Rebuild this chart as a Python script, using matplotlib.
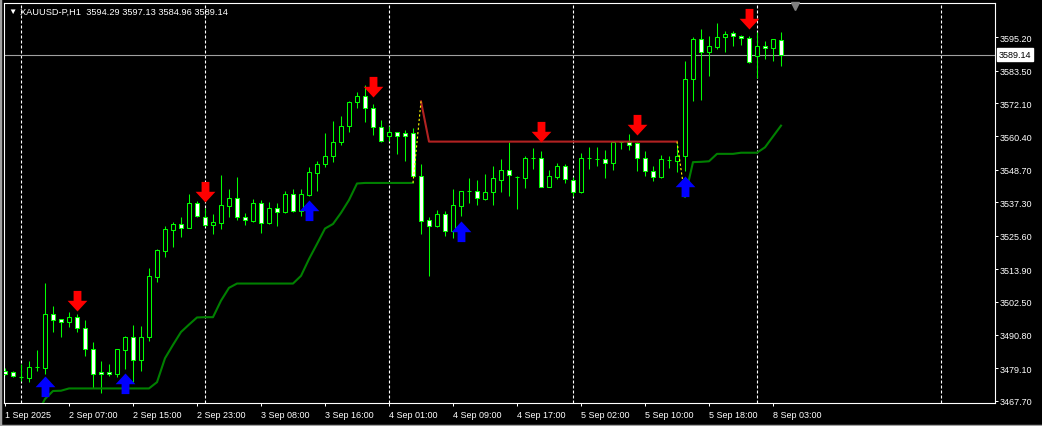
import numpy as np
import matplotlib
matplotlib.use("Agg")
import matplotlib.pyplot as plt
from matplotlib.patches import Rectangle
from matplotlib.path import Path

plt.rcParams['font.family'] = ['Liberation Sans', 'DejaVu Sans']

# XAUUSD-P H1 bars, 1 Sep 22:00 .. 8 Sep 06:00
opens = [3478.23, 3477.88, 3476.00, 3475.56, 3479.42, 3479.18, 3498.12, 3496.26, 3495.21, 3496.96,
         3493.11, 3485.84, 3477.67, 3477.67, 3477.07, 3485.60, 3489.95, 3482.09, 3489.95, 3511.21,
         3520.33, 3527.70, 3529.59, 3528.40, 3537.07, 3532.05, 3529.45, 3530.05, 3536.12, 3538.82,
         3532.15, 3530.86, 3536.96, 3529.94, 3535.21, 3533.80, 3540.22, 3534.37, 3539.98, 3547.70,
         3550.64, 3553.66, 3558.36, 3563.98, 3572.40, 3574.50, 3570.29, 3563.63, 3560.47, 3561.87,
         3561.63, 3561.63, 3546.43, 3531.00, 3529.10, 3533.10, 3527.35, 3536.12, 3541.17, 3541.17,
         3538.47, 3541.03, 3545.14, 3548.64, 3546.29, 3545.84, 3552.85, 3552.85, 3542.79, 3546.29,
         3549.94, 3545.14, 3540.82, 3552.75, 3552.50, 3552.40, 3551.00, 3558.36, 3558.36, 3558.01,
         3552.75, 3548.19, 3546.08, 3552.26, 3551.91, 3553.45, 3580.57, 3594.61, 3590.15, 3591.90,
         3595.20, 3596.61, 3595.55, 3594.85, 3588.54, 3592.04, 3591.34, 3594.29]
highs = [3479.07, 3478.12, 3480.58, 3481.53, 3485.49, 3509.00, 3501.03, 3496.37, 3498.72, 3498.12,
         3496.02, 3488.19, 3481.63, 3480.58, 3486.00, 3490.51, 3494.26, 3494.02, 3514.26, 3520.93,
         3528.89, 3530.30, 3532.05, 3540.22, 3537.87, 3535.21, 3533.21, 3546.89, 3541.98, 3546.29,
         3533.56, 3538.47, 3538.12, 3537.31, 3537.07, 3541.28, 3541.98, 3541.98, 3549.59, 3551.91,
         3561.63, 3565.94, 3567.70, 3572.75, 3575.91, 3578.47, 3571.80, 3566.19, 3563.98, 3562.08,
         3562.78, 3563.28, 3550.75, 3532.05, 3534.61, 3534.26, 3541.98, 3541.40, 3545.73, 3545.14,
         3547.24, 3549.94, 3552.50, 3558.57, 3546.50, 3553.66, 3556.36, 3555.42, 3548.64, 3551.00,
         3550.75, 3546.29, 3554.61, 3556.82, 3556.82, 3555.66, 3558.50, 3558.45, 3561.28, 3558.36,
         3555.42, 3549.94, 3553.91, 3553.66, 3557.77, 3586.99, 3595.41, 3598.11, 3595.76, 3600.22,
         3597.52, 3597.52, 3596.01, 3595.55, 3596.96, 3594.01, 3594.61, 3597.13]
lows = [3476.72, 3476.13, 3474.72, 3474.16, 3478.23, 3477.07, 3491.70, 3490.16, 3493.46, 3491.91,
        3483.28, 3472.16, 3470.41, 3476.26, 3476.02, 3478.83, 3474.16, 3478.23, 3488.76, 3509.46,
        3518.23, 3521.74, 3525.24, 3528.20, 3532.05, 3529.10, 3526.19, 3527.94, 3532.05, 3531.21,
        3529.45, 3530.51, 3526.54, 3529.70, 3529.10, 3533.56, 3534.01, 3532.40, 3539.63, 3541.38,
        3549.59, 3551.56, 3557.42, 3562.08, 3570.29, 3565.38, 3560.92, 3558.36, 3558.92, 3554.26,
        3551.91, 3546.08, 3526.19, 3511.35, 3528.54, 3525.38, 3524.68, 3532.40, 3536.96, 3536.36,
        3538.22, 3536.36, 3541.03, 3539.63, 3534.96, 3542.33, 3549.00, 3542.58, 3542.60, 3545.49,
        3544.08, 3539.63, 3540.47, 3549.00, 3550.15, 3545.84, 3548.64, 3556.01, 3555.66, 3548.40,
        3546.65, 3544.89, 3545.84, 3549.35, 3547.84, 3548.40, 3572.96, 3573.20, 3581.73, 3591.10,
        3590.15, 3592.26, 3592.61, 3586.08, 3580.82, 3587.59, 3586.99, 3584.96]
closes = [3477.07, 3476.48, 3475.91, 3479.42, 3479.50, 3498.12, 3496.12, 3495.21, 3496.96, 3493.11,
          3485.84, 3476.97, 3476.97, 3476.97, 3485.84, 3489.95, 3482.09, 3489.95, 3511.35, 3520.58,
          3527.94, 3529.59, 3528.40, 3537.07, 3532.61, 3529.45, 3530.51, 3536.36, 3538.82, 3532.05,
          3531.00, 3536.96, 3529.94, 3535.21, 3533.80, 3540.22, 3534.37, 3540.22, 3547.84, 3550.75,
          3553.66, 3558.36, 3563.98, 3572.40, 3574.50, 3570.29, 3563.63, 3558.92, 3561.87, 3560.47,
          3560.47, 3546.43, 3530.86, 3529.10, 3533.10, 3527.35, 3536.36, 3541.28, 3541.17, 3538.71,
          3540.82, 3545.73, 3548.64, 3546.99, 3546.29, 3552.85, 3552.85, 3542.79, 3546.43, 3549.94,
          3545.49, 3541.03, 3552.75, 3552.75, 3552.50, 3551.00, 3558.36, 3558.36, 3557.52, 3552.75,
          3548.19, 3546.08, 3552.50, 3552.26, 3553.45, 3580.57, 3594.61, 3590.15, 3592.04, 3595.20,
          3596.36, 3595.55, 3594.85, 3586.43, 3592.04, 3591.34, 3594.61, 3589.14]

# trailing stop indicator (value per bar) and its direction
trend_vals = ([np.nan] * 4 +
              [3463.0, 3468.3, 3471.1, 3471.2] + [3472.0] * 11 +
              [3474.2, 3482.6, 3487.3, 3491.8, 3494.4, 3496.9, 3497.0, 3497.0, 3502.8, 3507.3] +
              [3508.8] * 8 +
              [3511.5, 3517.4, 3522.7, 3528.1, 3529.7, 3533.6, 3538.1, 3543.9] + [3544.1] * 7 +
              [3572.7] + [3558.6] * 32 +
              [3539.2, 3551.4, 3551.5, 3551.7, 3554.3, 3554.3, 3554.3, 3554.7, 3554.7, 3554.7,
               3556.6, 3560.4, 3564.2])
trend_dir = [0] * 4 + [1] * 48 + [-1] * 33 + [1] * 13

# signal arrows (bar index, arrow tip price)
sell_bars = [9, 25, 46, 67, 79, 93]
sell_prices = [3499.28, 3537.31, 3574.15, 3558.36, 3561.03, 3598.11]
buy_bars = [5, 15, 38, 57, 85]
buy_prices = [3476.47, 3477.32, 3538.22, 3530.86, 3546.65]

price_ticks = [3595.20, 3583.50, 3572.10, 3560.40, 3548.70, 3537.30,
               3525.60, 3513.90, 3502.50, 3490.80, 3479.10, 3467.70]
tick_bars = [0, 8, 16, 24, 32, 40, 48, 56, 64, 72, 80, 88, 96]
time_labels = ['1 Sep 2025', '2 Sep 07:00', '2 Sep 15:00', '2 Sep 23:00', '3 Sep 08:00',
               '3 Sep 16:00', '4 Sep 01:00', '4 Sep 09:00', '4 Sep 17:00', '5 Sep 02:00',
               '5 Sep 10:00', '5 Sep 18:00', '8 Sep 03:00']
day_starts = [2, 25, 48, 71, 94, 117]

lime = '#00ff00'
W, H = 1042, 427
fig = plt.figure(figsize=(W / 100, H / 100), dpi=100, facecolor='black')
ax = fig.add_axes([4 / W, 23 / H, 991 / W, 400 / H])
ax.set_facecolor('black')

n = len(closes)
x = np.arange(n)
ax.set_xlim(-0.125, 123.75)
ax.set_ylim(3466.89, 3607.23)

for d in day_starts:
    ax.axvline(d, color='white', lw=0.8, ls=(0, (2.7, 1.8)), zorder=1)
ax.axhline(closes[-1], color='#a0a0a0', lw=0.8, zorder=1)

# candles
ax.vlines(x, lows, highs, color=lime, lw=0.75, zorder=3)
for i in range(n):
    o, c = opens[i], closes[i]
    face = 'white' if c < o else 'black'
    ax.add_patch(Rectangle((i - 0.25, min(o, c)), 0.5, abs(c - o),
                           fc=face, ec=lime, lw=0.75, zorder=4))

# indicator line
trend = np.array(trend_vals, dtype=float)
tdir = np.array(trend_dir)
up = np.where(tdir == 1, trend, np.nan)
dn = np.where(tdir == -1, trend, np.nan)
ax.plot(x, up, color='#008000', lw=1.5, zorder=5)
ax.plot(x, dn, color='#b22222', lw=1.5, zorder=5)
for i in range(1, n):
    if tdir[i - 1] != 0 and tdir[i] != tdir[i - 1]:
        ax.plot([i - 1, i], [trend[i - 1], trend[i]], color='#ffff00', lw=0.8,
                ls=(0, (2.0, 2.0)), zorder=5)

# arrows
down_verts = [(0, 0), (0.48, 0.52), (0.19, 0.52), (0.19, 1), (-0.19, 1),
              (-0.19, 0.52), (-0.48, 0.52), (0, 0)]
down_arrow = Path(down_verts)
up_arrow = Path([(vx, -vy) for vx, vy in down_verts])
ax.scatter(sell_bars, sell_prices, marker=down_arrow, s=880, c='#ff0000',
           linewidths=0, zorder=6)
ax.scatter(buy_bars, buy_prices, marker=up_arrow, s=880, c='#0000ff',
           linewidths=0, zorder=6)

# axes styling
ax.yaxis.tick_right()
ax.set_yticks(price_ticks)
ax.set_yticklabels([f'{p:.2f}' for p in price_ticks])
ax.set_xticks(tick_bars)
ax.set_xticklabels(time_labels, ha='left')
ax.tick_params(colors='white', labelsize=6.5, length=2.2, width=0.72, pad=1.5)
ax.tick_params(axis='x', pad=2.5)
for s in ax.spines.values():
    s.set_color('white')
    s.set_linewidth(0.8)

# current price label
ax.annotate(f'{closes[-1]:.2f}', xy=(1, closes[-1]), xycoords=('axes fraction', 'data'),
            xytext=(2.5, 0), textcoords='offset points', va='center', ha='left',
            fontsize=6.5, color='black',
            bbox=dict(boxstyle='square,pad=0.2', fc='white', ec='white'))

# chart shift marker
ax.plot([n + 0.75], [1 - 3 / 400], transform=ax.get_xaxis_transform(), marker='v',
        ms=6, color='#808080', clip_on=False, zorder=7)

# title
fig.text(8 / W, 1 - 12.7 / H, '\u25bc', color='white', fontsize=6, va='center', ha='left')
fig.text(20 / W, 1 - 12.7 / H,
         f'XAUUSD-P,H1  {opens[-1]:.2f} {highs[-1]:.2f} {lows[-1]:.2f} {closes[-1]:.2f}',
         color='white', fontsize=6.7, va='center', ha='left')

# window border
fig.add_artist(plt.Line2D([0, 0, 1], [1, 0, 0], transform=fig.transFigure,
                          color='#a0a0a0', lw=2.5))

fig.savefig('out.png', dpi=100, facecolor='black')
